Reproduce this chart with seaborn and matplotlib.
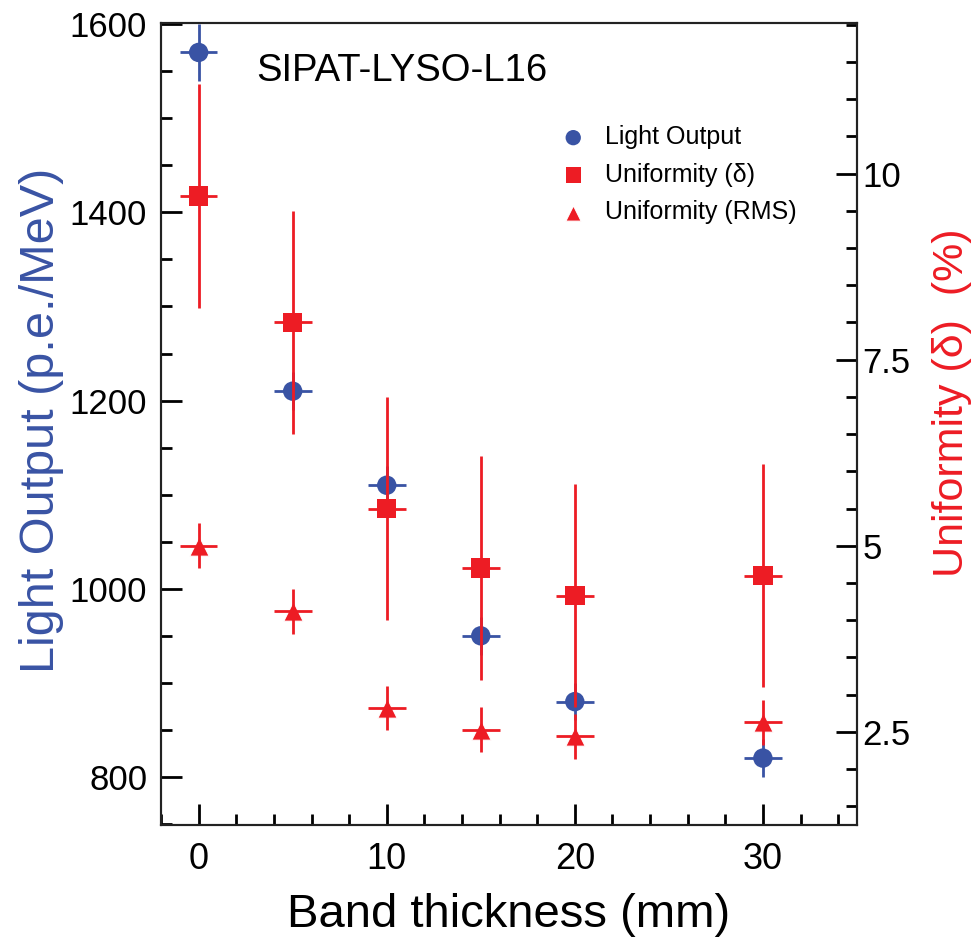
import numpy as np
import pandas as pd
import matplotlib
matplotlib.use("Agg")
import matplotlib.pyplot as plt
import seaborn as sns
from matplotlib.ticker import MultipleLocator

# values
thickness = [0, 5, 10, 15, 20, 30]
thickness_err = [1, 1, 1, 1, 1, 1]
light_output = [1570, 1210, 1110, 950, 880, 820]
light_output_err = [30, 20, 20, 20, 20, 20]
unif_delta = [9.7, 8.0, 5.5, 4.7, 4.33, 4.6]
unif_delta_err = [1.5, 1.5, 1.5, 1.5, 1.5, 1.5]
unif_rms = [5.0, 4.12, 2.82, 2.53, 2.44, 2.63]
unif_rms_err = [0.3, 0.3, 0.3, 0.3, 0.3, 0.3]

BLUE = '#3953a4'
RED = '#ed1c24'

df = pd.DataFrame({
    'thickness': thickness,
    'lo': light_output,
    'delta': unif_delta,
    'rms': unif_rms,
})

sns.set_style("ticks")
plt.rcParams['font.family'] = ['Liberation Sans', 'DejaVu Sans']

fig = plt.figure(figsize=(9.76, 9.46), dpi=100)
ax1 = fig.add_axes([0.165, 0.128, 0.713, 0.8474])
ax2 = ax1.twinx()

# light output on the left axis
ax1.errorbar(thickness, light_output, xerr=thickness_err, yerr=light_output_err,
             fmt='none', ecolor=BLUE, elinewidth=2.0, capsize=0)
sns.scatterplot(data=df, x='thickness', y='lo', ax=ax1, color=BLUE, marker='o',
                s=195, edgecolor='none', label='Light Output', legend=False)

# uniformity on the right axis
ax2.errorbar(thickness, unif_delta, xerr=thickness_err, yerr=unif_delta_err,
             fmt='none', ecolor=RED, elinewidth=2.0, capsize=0)
sns.scatterplot(data=df, x='thickness', y='delta', ax=ax2, color=RED, marker='s',
                s=195, edgecolor='none', label='Uniformity (δ)', legend=False)
ax2.errorbar(thickness, unif_rms, xerr=thickness_err, yerr=unif_rms_err,
             fmt='none', ecolor=RED, elinewidth=2.0, capsize=0)
sns.scatterplot(data=df, x='thickness', y='rms', ax=ax2, color=RED, marker='^',
                s=195, edgecolor='white', linewidth=0.8, label='Uniformity (RMS)', legend=False)

ax1.set_xlim(-2, 35)
ax1.set_ylim(749, 1601)
ax2.set_ylim(1.25, 12.02)

ax1.xaxis.set_major_locator(MultipleLocator(10))
ax1.xaxis.set_minor_locator(MultipleLocator(2))
ax1.yaxis.set_major_locator(MultipleLocator(200))
ax1.yaxis.set_minor_locator(MultipleLocator(50))
ax2.yaxis.set_major_locator(MultipleLocator(2.5))
ax2.yaxis.set_minor_locator(MultipleLocator(0.5))
ax2.yaxis.set_major_formatter(plt.FuncFormatter(lambda v, p: f"{v:g}"))

ax1.tick_params(axis='x', which='both', direction='in', top=False, pad=12, labelsize=26)
ax1.tick_params(axis='y', which='both', direction='in', right=False, pad=10, labelsize=25)
ax1.tick_params(which='major', length=15, width=2, color='black', labelcolor='black')
ax1.tick_params(which='minor', length=8, width=2, color='black')
ax2.tick_params(axis='y', which='major', direction='in', length=15, width=2, pad=4,
                labelsize=25, color='black', labelcolor='black')
ax2.tick_params(axis='y', which='minor', direction='in', length=8, width=2, color='black')

for ax in (ax1, ax2):
    for sp in ax.spines.values():
        sp.set_linewidth(1.5)
        sp.set_color('#222222')

ax1.set_xlabel('Band thickness (mm)', fontsize=34, va='center', color='black')
ax1.xaxis.set_label_coords(0.5, -0.112)
ax1.set_ylabel('Light Output (p.e./MeV)', fontsize=35, color=BLUE, va='center')
ax1.yaxis.set_label_coords(-0.172, 0.505)
ax2.set_ylabel('Uniformity (δ)  (%)', fontsize=31, color=RED, rotation=90, va='center')
ax2.yaxis.set_label_coords(1.136, 0.527)

ax1.text(0.1375, 0.941, 'SIPAT-LYSO-L16', transform=ax1.transAxes, fontsize=27.5,
         ha='left', va='center', color='black')

h1, l1 = ax1.get_legend_handles_labels()
h2, l2 = ax2.get_legend_handles_labels()
leg = ax2.legend(h1 + h2, l1 + l2, loc='upper left', bbox_to_anchor=(0.56, 0.8853),
                 frameon=False, fontsize=18, markerscale=0.79, handlelength=1.0,
                 handletextpad=0.78, labelspacing=0.54, borderaxespad=0)
for t in leg.get_texts():
    t.set_color('black')

fig.savefig('out.png', dpi=100)
